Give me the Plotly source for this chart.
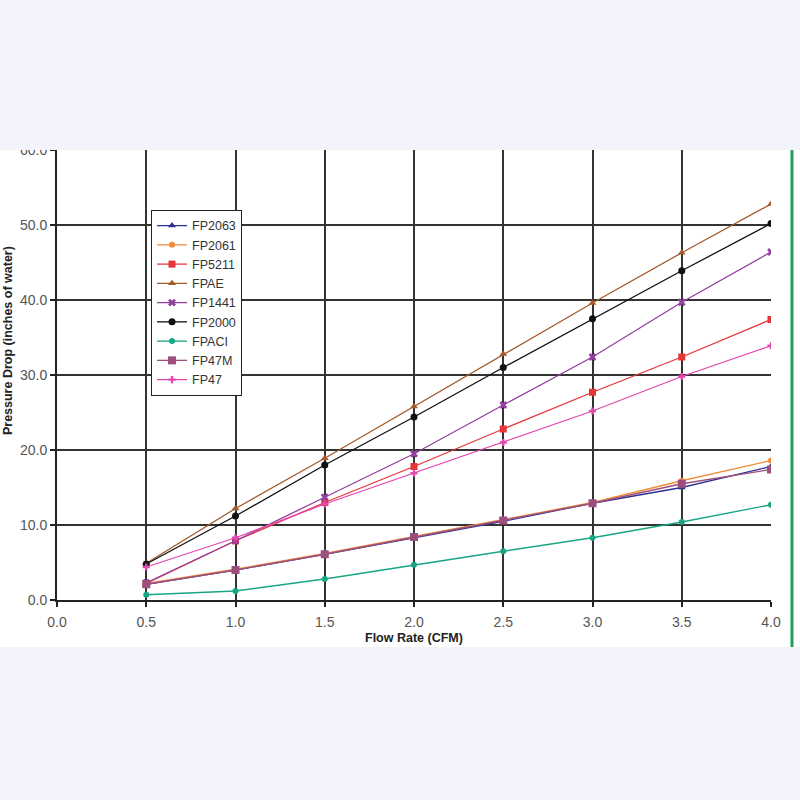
import plotly.graph_objects as go

flow_rate = [0.5, 1.0, 1.5, 2.0, 2.5, 3.0, 3.5, 4.0]

FP2063 = [2.1, 4.0, 6.1, 8.3, 10.5, 12.9, 15.0, 17.8]
FP2061 = [2.2, 4.1, 6.2, 8.5, 10.7, 13.0, 15.9, 18.6]
FP5211 = [2.2, 7.9, 13.0, 17.8, 22.8, 27.7, 32.4, 37.4]
FPAE = [4.9, 12.2, 18.9, 25.8, 32.8, 39.6, 46.3, 52.8]
FP1441 = [2.3, 7.9, 13.7, 19.5, 26.0, 32.4, 39.7, 46.4]
FP2000 = [4.8, 11.2, 18.0, 24.4, 31.0, 37.5, 43.9, 50.2]
FPACI = [0.7, 1.2, 2.8, 4.7, 6.5, 8.3, 10.4, 12.7]
FP47M = [2.1, 4.0, 6.1, 8.4, 10.6, 12.9, 15.5, 17.4]
FP47 = [4.4, 8.3, 12.8, 16.9, 21.0, 25.2, 29.8, 33.9]

series_names = ["FP2063", "FP2061", "FP5211", "FPAE", "FP1441", "FP2000", "FPACI", "FP47M", "FP47"]
series_values = [FP2063, FP2061, FP5211, FPAE, FP1441, FP2000, FPACI, FP47M, FP47]
colors = ["#2e3192", "#f28c3c", "#e8353a", "#a65a2a", "#9440a0", "#111111", "#17a585", "#9c4f7c", "#e24aae"]
symbols = ["triangle-up", "circle", "square", "triangle-up", "x", "circle", "circle", "square", "cross"]
sizes = [7, 6, 7, 7, 7, 7, 6, 8, 6]

fig = go.Figure()
for name, vals, c, s, sz in zip(series_names, series_values, colors, symbols, sizes):
    fig.add_trace(go.Scatter(
        x=flow_rate, y=vals, name=name, mode="lines+markers",
        line=dict(color=c, width=1.3),
        marker=dict(color=c, symbol=s, size=sz, line=dict(width=0)),
    ))

band = "#f3f4fb"
fig.update_layout(
    width=800, height=800,
    margin=dict(l=57, r=29, t=150, b=200),
    paper_bgcolor="white", plot_bgcolor="white",
    font=dict(family="Liberation Sans, Arial, sans-serif", color="#444"),
    showlegend=True,
    legend=dict(
        x=0.1317, y=0.8667, xanchor="left", yanchor="top",
        bgcolor="white", bordercolor="#222", borderwidth=1,
        font=dict(size=12.5, color="#333"), tracegroupgap=0,
    ),
    xaxis=dict(
        range=[0, 4], dtick=0.5, tick0=0, tickformat=".1f",
        showgrid=True, gridcolor="#333", gridwidth=1.5,
        showline=True, linecolor="#222", linewidth=2,
        ticks="outside", ticklen=5, tickcolor="#222", tickwidth=1.5,
        zeroline=False, tickfont=dict(size=14, color="#555"),
        ticklabelstandoff=3,
    ),
    yaxis=dict(
        range=[0, 60], dtick=10, tick0=0, tickformat=".1f",
        showgrid=True, gridcolor="#333", gridwidth=1.5,
        showline=True, linecolor="#222", linewidth=2,
        ticks="outside", ticklen=5, tickcolor="#222", tickwidth=1.5,
        zeroline=False, tickfont=dict(size=14, color="#555"),
    ),
    shapes=[
        dict(type="rect", xref="paper", yref="paper", x0=-0.1, x1=1.1, y0=1.0, y1=1.4,
             fillcolor=band, line=dict(width=0), layer="above"),
        dict(type="rect", xref="paper", yref="paper", x0=-0.1, x1=1.1, y0=-0.1044, y1=-0.5,
             fillcolor=band, line=dict(width=0), layer="above"),
        dict(type="line", xref="paper", yref="paper", x0=1.0294, x1=1.0294, y0=1.0, y1=-0.1044,
             line=dict(color="#1f9e5c", width=3), layer="above"),
    ],
    annotations=[
        dict(text="<b>Pressure Drop (inches of water)</b>", xref="paper", yref="paper",
             x=-0.0685, y=0.5756, xanchor="center", yanchor="middle", textangle=-90,
             showarrow=False, font=dict(size=12.5, color="#222")),
        dict(text="<b>Flow Rate (CFM)</b>", xref="paper", yref="paper",
             x=0.5, y=-0.0844, xanchor="center", yanchor="middle",
             showarrow=False, font=dict(size=12.5, color="#222")),
    ],
)

fig.write_html("out.html", config={"displayModeBar": False},
               post_script="document.body.style.margin='0';document.body.style.overflow='hidden';")
